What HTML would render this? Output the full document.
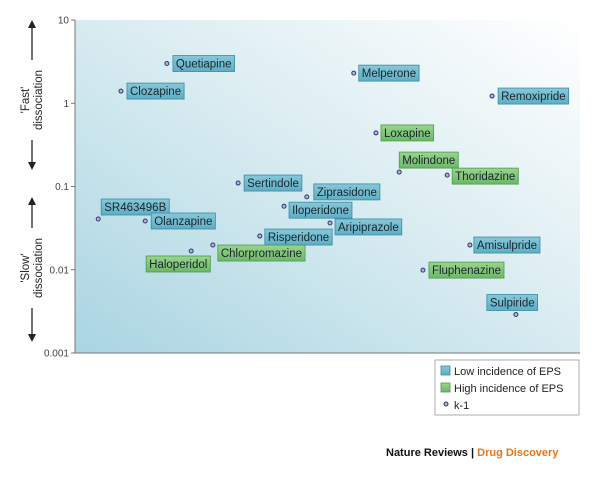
<!DOCTYPE html>
<html><head><meta charset="utf-8"><style>
body{margin:0;width:600px;height:477px;background:#fff;overflow:hidden;font-family:"Liberation Sans",sans-serif}
</style></head><body>
<svg id="chart" width="600" height="477" xmlns="http://www.w3.org/2000/svg" style="font-family:'Liberation Sans',sans-serif">
<defs>
<linearGradient id="bg" x1="0" y1="1" x2="1" y2="0">
<stop offset="0" stop-color="#a9d5e2"/><stop offset="0.55" stop-color="#dcedf2"/><stop offset="1" stop-color="#ffffff"/>
</linearGradient>
<linearGradient id="blu" x1="0" y1="0" x2="0" y2="1"><stop offset="0" stop-color="#86c8d8"/><stop offset="1" stop-color="#5eaec4"/></linearGradient>
<linearGradient id="grn" x1="0" y1="0" x2="0" y2="1"><stop offset="0" stop-color="#9ad48f"/><stop offset="1" stop-color="#6cb866"/></linearGradient>
</defs>
<rect x="75" y="20" width="505" height="333" fill="url(#bg)"/>
<g id="axes"></g>
<g id="marks"></g>
<g>
<rect x="435" y="360" width="144" height="55" fill="#fff" stroke="#999" stroke-width="0.8"/>
<rect x="441" y="366" width="9" height="9" fill="url(#blu)" stroke="#3a8aa6" stroke-width="0.8"/>
<text x="454" y="375" font-size="11" fill="#222">Low incidence of EPS</text>
<rect x="441" y="383" width="9" height="9" fill="url(#grn)" stroke="#4a9a4a" stroke-width="0.8"/>
<text x="454" y="392" font-size="11" fill="#222">High incidence of EPS</text>
<circle cx="446" cy="404" r="2" fill="#a8b8d8" stroke="#333a70" stroke-width="1"/>
<text x="454" y="409" font-size="11" fill="#222">k-1</text>
</g>
<text x="386" y="456" font-size="11" font-weight="bold" fill="#111">Nature Reviews | <tspan fill="#e8751a">Drug Discovery</tspan></text>
</svg>
<script>
const drugs=["Quetiapine","Clozapine","Melperone","Remoxipride","Loxapine","Molindone","Thoridazine","Sertindole","Ziprasidone","Iloperidone","Aripiprazole","Risperidone","SR463496B","Olanzapine","Chlorpromazine","Haloperidol","Amisulpride","Fluphenazine","Sulpiride"];
const xPos=[18.2,9.1,55.2,82.6,59.6,64.2,73.7,32.3,45.9,41.4,50.5,36.6,4.6,13.9,27.3,23.0,78.2,68.9,87.3];
const kOff=[3.0,1.4,2.3,1.22,0.44,0.149,0.137,0.11,0.075,0.058,0.0365,0.0254,0.0407,0.0385,0.0198,0.0168,0.0198,0.0099,0.0029];
const eps=["low","low","low","low","high","high","high","low","low","low","low","low","low","low","high","high","low","high","low"];
const yTicks=[10,1,0.1,0.01,0.001];
const yTickLabels=["10","1","0.1","0.01","0.001"];
// label box offsets relative to dot (layout, not data)
const labDx=[6,6,5,6,5,0,5,6,7,5,5,5,3,6,5,-45,4,6,-29];
const labDy=[-8,-8,-8,-8,-8,-20,-7,-8,-13,-4,-4,-7,-20,-8,0,5,-8,-8,-20];
const X0=75,X1=580,Y0=353,Y1=20;
const sx=v=>X0+v/100*(X1-X0);
const sy=v=>Y0-(Math.log10(v)+3)/4*(Y0-Y1);
const NS="http://www.w3.org/2000/svg";
function mk(t,a,p){const e=document.createElementNS(NS,t);for(const k in a)e.setAttribute(k,a[k]);p.appendChild(e);return e;}
const axes=document.getElementById('axes'),marks=document.getElementById('marks');
const ya=mk('line',{x1:X0,y1:Y1,x2:X0,y2:Y0,stroke:'#777','stroke-width':1},axes);


const xa=mk('line',{x1:X0,y1:Y0,x2:X1,y2:Y0,stroke:'#777','stroke-width':1},axes);


yTicks.forEach((t,i)=>{
 const y=sy(t);
 mk('line',{x1:X0-4,y1:y,x2:X0,y2:y,stroke:'#777'},axes);
 const tx=mk('text',{x:X0-6,y:y+3.5,'font-size':10,'text-anchor':'end',fill:'#444'},axes);
 tx.textContent=yTickLabels[i];
 
 
});
function title(lines,cy,top,bot,name){
 const g=mk('g',{},axes);
 
 
 const t=mk('text',{transform:`translate(29,${cy}) rotate(-90)`,'font-size':11.5,'text-anchor':'middle',fill:'#222'},g);
 lines.forEach((l,i)=>{const s=mk('tspan',{x:0,dy:i?13:0},t);s.textContent=l;});
 mk('line',{x1:32,y1:top+6,x2:32,y2:cy-40,stroke:'#222','stroke-width':1.3},g);
 mk('line',{x1:32,y1:cy+40,x2:32,y2:bot-6,stroke:'#222','stroke-width':1.3},g);
 mk('path',{d:`M28,${top+8}L32,${top}L36,${top+8}Z`,fill:'#222'},g);
 mk('path',{d:`M28,${bot-8}L32,${bot}L36,${bot-8}Z`,fill:'#222'},g);
}
title(["'Fast'","dissociation"],100,20,170,'fast-dissociation-title');
title(["'Slow'","dissociation"],268,197,342,'slow-dissociation-title');
drugs.forEach((d,i)=>{
 const cx=sx(xPos[i]),cy=sy(kOff[i]);
 const g=mk('g',{},marks);
 
 
 const c=mk('circle',{cx:cx,cy:cy,r:2,fill:'#a8b8d8',stroke:'#333a70','stroke-width':1},g);
 
 
 const bx=cx+labDx[i],by=cy+labDy[i],h=16;
 const r=mk('rect',{x:bx,y:by,width:10,height:h,fill:eps[i]==='low'?'url(#blu)':'url(#grn)',stroke:eps[i]==='low'?'#3a8aa6':'#4a9a4a','stroke-width':0.8},g);
 
 
 const t=mk('text',{x:bx+3,y:by+12,'font-size':11.5,fill:'#1a2530'},g);
 t.textContent=d;
 
 
 r.setAttribute('width',t.getComputedTextLength()+6);
});
</script>
</body></html>
